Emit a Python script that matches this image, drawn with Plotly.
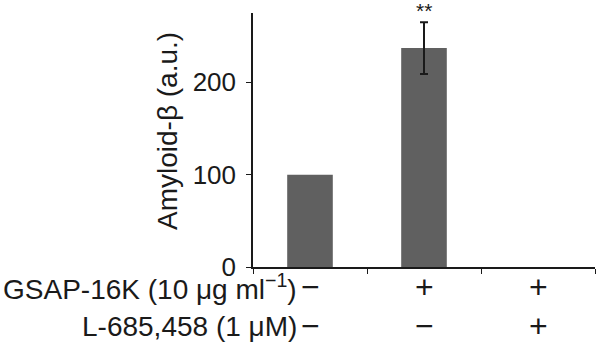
import plotly.graph_objects as go

categories = ["c1", "c2", "c3"]
values = [100, 237, None]
errors = [None, 28, None]
row1_marks = ["−", "+", "+"]
row2_marks = ["−", "−", "+"]
row_labels = ["GSAP-16K (10 μg ml<sup>−1</sup>)", "L-685,458 (1 μM)"]
y_ticks = [0, 100, 200]
y_title = "Amyloid-β (a.u.)"
sig_label = "**"

W, H = 600, 345
L, R, T, B = 253, 5, 13, 78
font = "Liberation Sans, Arial, Helvetica, sans-serif"
col = "#1a1a1a"

fig = go.Figure()
fig.add_trace(go.Bar(
    x=categories, y=values, width=0.40,
    marker=dict(color="#606060", line=dict(width=0)),
    showlegend=False,
))
err_x = [c for c, e in zip(categories, errors) if e]
err_y = [v for v, e in zip(values, errors) if e]
err_v = [e for e in errors if e]
fig.add_trace(go.Scatter(
    x=err_x, y=err_y, mode="markers", marker=dict(size=1, opacity=0),
    error_y=dict(type="data", array=err_v, visible=True, color="#1a1a1a",
                 thickness=2, width=4),
    showlegend=False, hoverinfo="skip",
))

def px_to_paper_x(px):
    return (px - L) / (W - L - R)

def px_to_paper_y(py):
    return (H - B - py) / (H - T - B)

annotations = []
rows = [(row1_marks, 287), (row2_marks, 326)]
for i, (marks, py) in enumerate(rows):
    for c, m in zip(categories, marks):
        annotations.append(dict(x=c, xref="x", y=px_to_paper_y(py), yref="paper",
                                text=m, showarrow=False, xanchor="center", yanchor="middle",
                                font=dict(size=32, color=col, family=font)))
    annotations.append(dict(x=px_to_paper_x(299), xref="paper", y=px_to_paper_y(py), yref="paper",
                            text=row_labels[i], showarrow=False, xanchor="right", yanchor="middle",
                            font=dict(size=28, color=col, family=font)))

annotations.append(dict(x=px_to_paper_x(167), xref="paper", y=px_to_paper_y(131), yref="paper",
                        text=y_title, textangle=-90, showarrow=False,
                        xanchor="center", yanchor="middle",
                        font=dict(size=28, color=col, family=font)))
annotations.append(dict(x=categories[1], xref="x", y=px_to_paper_y(0), yref="paper",
                        text=sig_label, showarrow=False, xanchor="center", yanchor="top",
                        yshift=3, font=dict(size=21, color=col, family=font)))

fig.update_layout(
    width=W, height=H,
    margin=dict(l=L, r=R, t=T, b=B, pad=0),
    paper_bgcolor="white", plot_bgcolor="white",
    bargap=0.6,
    annotations=annotations,
    xaxis=dict(type="category", range=[-0.5, 2.5], showline=True, linecolor=col, linewidth=1.5,
               ticks="outside", tickson="boundaries", ticklen=5, tickwidth=1.2, tickcolor=col,
               showticklabels=False, showgrid=False, zeroline=False),
    yaxis=dict(range=[0, 275], tickvals=y_ticks, showline=True, linecolor=col, linewidth=1.5,
               ticks="outside", ticklen=5, tickwidth=1.2, tickcolor=col,
               tickfont=dict(size=26, color=col, family=font),
               showgrid=False, zeroline=False, ticklabelstandoff=5),
)
fig.write_html("out.html")
